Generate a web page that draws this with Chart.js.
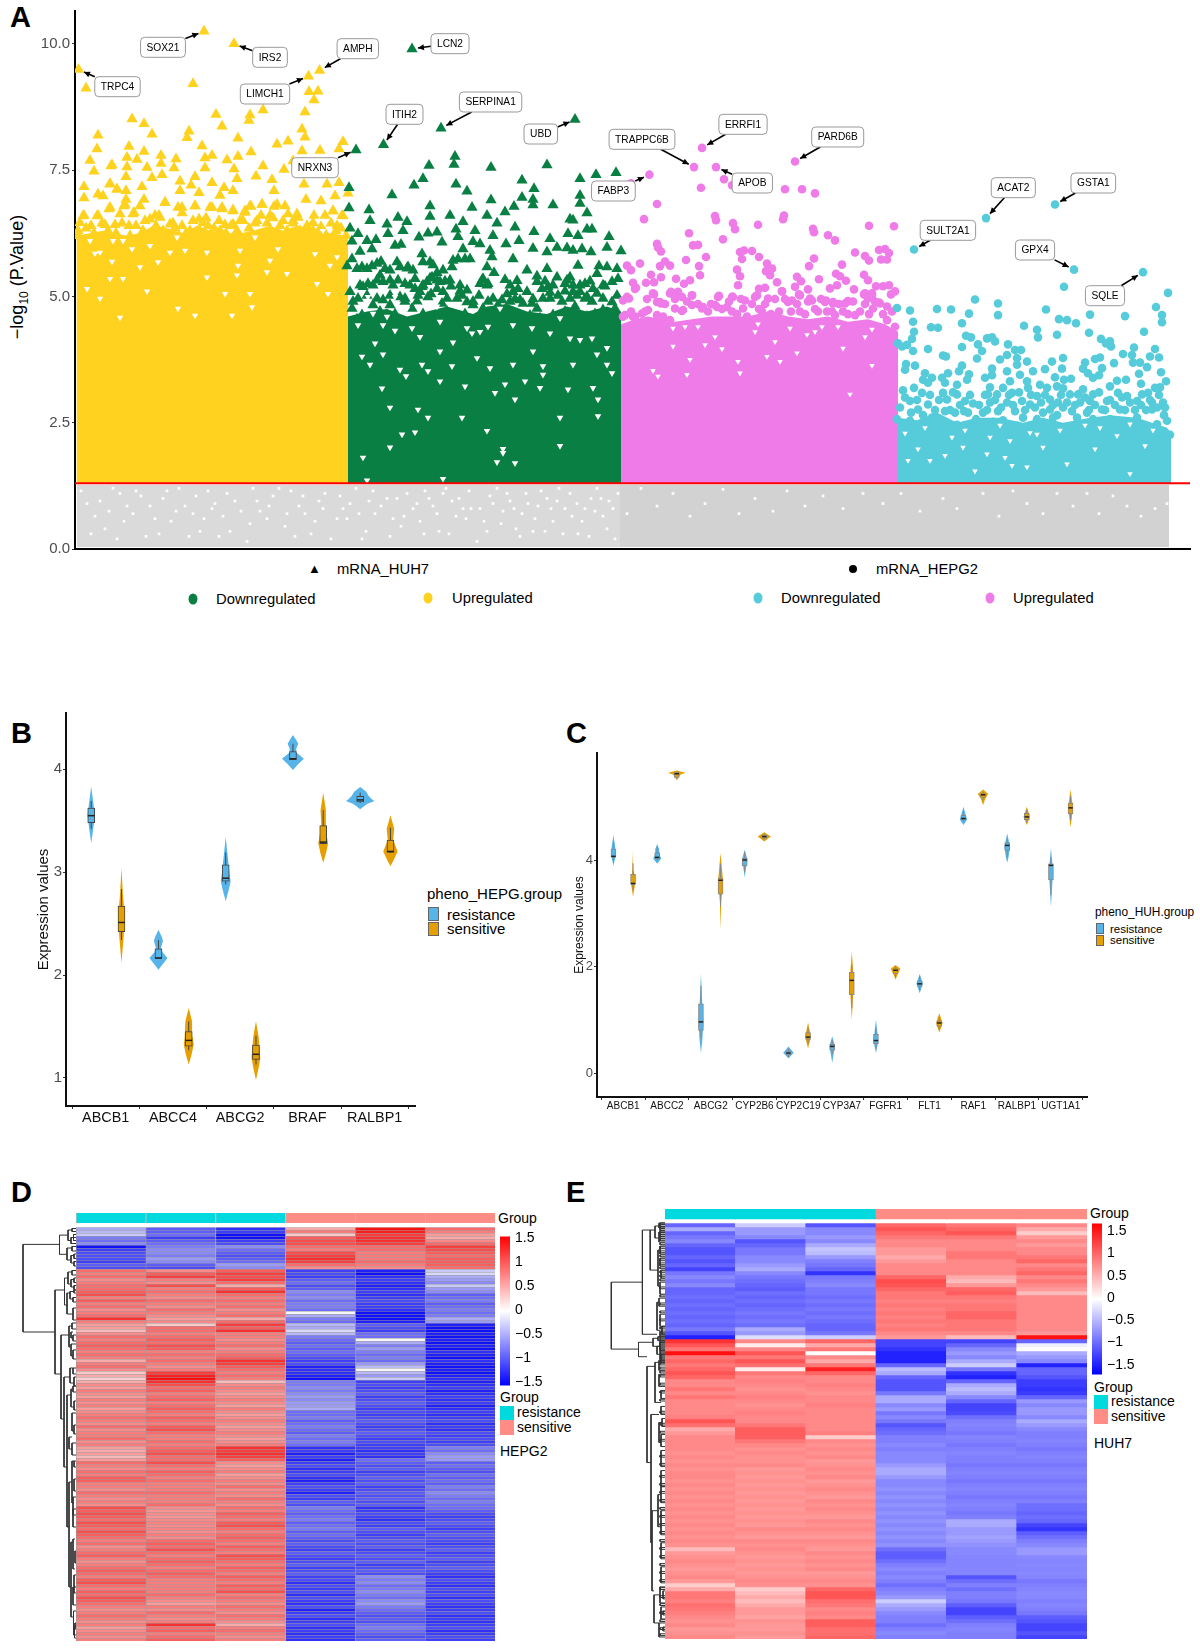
<!DOCTYPE html>
<html>
<head>
<meta charset="utf-8">
<script src="https://cdn.jsdelivr.net/npm/chart.js@4/dist/chart.umd.js"></script>
<style>
  body { margin: 0; width: 1200px; height: 1648px; background: #fff; position: relative; overflow: hidden; font-family: "Liberation Sans", sans-serif; color: #000; }
  canvas { position: absolute; }
  .t { position: absolute; transform: translateY(-50%); white-space: nowrap; }
  .letter { font-size: 29px; font-weight: bold; }
  .dot { position: absolute; width: 9px; height: 11px; border-radius: 50%; transform: translate(-50%, -50%); }
  .sw { position: absolute; box-sizing: border-box; border: 1px solid #666; }
  .fill { position: absolute; }
</style>
</head>
<body>
<div class="t letter" style="left:10px;top:17px">A</div>
<div class="t letter" style="left:11px;top:733px">B</div>
<div class="t letter" style="left:566px;top:733px">C</div>
<div class="t letter" style="left:11px;top:1192px">D</div>
<div class="t letter" style="left:566px;top:1192px">E</div>

<div class="t" style="left:19px;top:277px;font-size:18px;transform:translate(-50%,-50%) rotate(-90deg)">&minus;log<sub style="font-size:12px">10</sub> (P.Value)</div>

<div class="t" style="left:308px;top:568px;font-size:13px">&#9650;</div>
<div class="t" style="left:337px;top:569px;font-size:14.8px">mRNA_HUH7</div>
<div class="dot" style="left:853px;top:569px;background:#000;width:8px;height:8px"></div>
<div class="t" style="left:876px;top:569px;font-size:14.8px">mRNA_HEPG2</div>
<div class="dot" style="left:193px;top:599px;background:#0A7F43"></div>
<div class="t" style="left:216px;top:599px;font-size:14.8px">Downregulated</div>
<div class="dot" style="left:428px;top:598px;background:#FFD21F"></div>
<div class="t" style="left:452px;top:598px;font-size:14.8px">Upregulated</div>
<div class="dot" style="left:758px;top:598px;background:#56CBDA"></div>
<div class="t" style="left:781px;top:598px;font-size:14.8px">Downregulated</div>
<div class="dot" style="left:990px;top:598px;background:#EE7BE8"></div>
<div class="t" style="left:1013px;top:598px;font-size:14.8px">Upregulated</div>

<div class="t" style="left:427px;top:893px;font-size:15px">pheno_HEPG.group</div>
<div class="sw" style="left:428px;top:907px;width:11px;height:14px;background:#56B4E9"></div>
<div class="sw" style="left:428px;top:922px;width:11px;height:14px;background:#E69F00"></div>
<div class="t" style="left:447px;top:914px;font-size:15px">resistance</div>
<div class="t" style="left:447px;top:928px;font-size:15px">sensitive</div>

<div class="t" style="left:1095px;top:912px;font-size:11.9px">pheno_HUH.group</div>
<div class="sw" style="left:1096px;top:923px;width:8px;height:11px;background:#56B4E9"></div>
<div class="sw" style="left:1096px;top:935px;width:8px;height:11px;background:#E69F00"></div>
<div class="t" style="left:1110px;top:929px;font-size:11.5px">resistance</div>
<div class="t" style="left:1110px;top:940px;font-size:11.5px">sensitive</div>

<div class="t" style="left:498px;top:1218px;font-size:14px">Group</div>
<div class="t" style="left:500px;top:1397px;font-size:14px">Group</div>
<div class="fill" style="left:500px;top:1406px;width:14px;height:14px;background:#00DADF"></div>
<div class="fill" style="left:500px;top:1420px;width:14px;height:15px;background:#FF8C85"></div>
<div class="t" style="left:517px;top:1412px;font-size:14px">resistance</div>
<div class="t" style="left:517px;top:1427px;font-size:14px">sensitive</div>
<div class="t" style="left:500px;top:1451px;font-size:14px">HEPG2</div>

<div class="t" style="left:1090px;top:1213px;font-size:14px">Group</div>
<div class="t" style="left:1094px;top:1387px;font-size:14px">Group</div>
<div class="fill" style="left:1094px;top:1395px;width:14px;height:14px;background:#00DADF"></div>
<div class="fill" style="left:1094px;top:1409px;width:14px;height:15px;background:#FF8C85"></div>
<div class="t" style="left:1111px;top:1401px;font-size:14px">resistance</div>
<div class="t" style="left:1111px;top:1416px;font-size:14px">sensitive</div>
<div class="t" style="left:1094px;top:1443px;font-size:14px">HUH7</div>

<script>
// ---- panel A: rank, value, rank, value ...
const pTicks = [0, 2.5, 5, 7.5, 10];
const pThreshold = 1.3;

const geneNames = ["SOX21","IRS2","TRPC4","LIMCH1","AMPH","LCN2","ITIH2","SERPINA1","UBD","NRXN3","FABP3","TRAPPC6B","ERRFI1","APOB","PARD6B","ACAT2","GSTA1","SULT2A1","GPX4","SQLE"];
const geneRank = [129,159,3.5,233.5,244.6,337,308.5,366,500,281,574.4,619,627,641,720,911,980,839,999,1068];
const geneValue = [10.25,10.0,9.49,9.36,9.47,9.9,8.0,8.33,8.5,7.9,7.41,7.56,7.94,7.56,7.67,6.55,6.82,5.93,5.53,5.48];
const geneGroup = [0,0,0,0,0,1,1,1,1,1,2,2,2,2,2,3,3,3,3,3];

const yellowTopRank = [1.5,15,28,38,52,65,78,92,108,122,135,152,165,178,195,208,222,235,255,273];
const yellowTopValue = [6.2,6.25,6.3,6.25,6.2,6.25,6.4,6.35,6.25,6.4,6.3,6.25,6.25,6.3,6.4,6.3,6.4,6.35,6.25,6.2];
const greenTopRank = [273,292,312,332,352,372,398,412,432,452,472,492,512,532,546];
const greenTopValue = [4.6,4.7,4.75,4.6,4.7,4.8,4.65,4.8,4.85,4.7,4.65,4.8,4.7,4.8,4.7];
const pinkTopRank = [546,560,573,587,600,617,637,673,693,713,733,753,773,793,810,823];
const pinkTopValue = [4.45,4.55,4.6,4.55,4.5,4.55,4.6,4.6,4.7,4.6,4.55,4.6,4.5,4.55,4.45,4.3];
const cyanTopRank = [823,842,862,882,902,925,948,968,988,1015,1035,1062,1092,1096];
const cyanTopValue = [2.6,2.55,2.7,2.5,2.6,2.6,2.5,2.6,2.5,2.6,2.65,2.6,2.4,2.3];

const yellowPts = [57,8.51,69,8.42,77,8.21,23,8.19,22,7.92,54,7.97,69,7.87,86,7.79,15,7.69,37,7.6,52,7.75,62,7.71,101,7.72,130,7.74,137,7.79,152,7.7,163,7.77,176,7.86,202,8.01,213,8.07,227,7.88,230,8.15,227,8.31,245,7.89,268,8.06,264,7.92,163,8.13,127,7.98,112,8.14,114,8.27,147,8.37,141,8.6,175,8.59,174,8.48,188,8.69,230,8.65,239,8.89,234,9.05,243,9.06,118,9.21,11,9.12,
19,7.48,36,7.58,52,7.56,72,7.55,86,7.63,99,7.54,130,7.54,159,7.52,188,7.58,209,7.51,218,7.68,51,7.37,77,7.35,87,7.41,162,7.33,181,7.38,197,7.31,105,7.28,120,7.37,137,7.25,149,7.15,116,7.2,9,7.17,35,7.23,67,7.17,42,7.12,51,7.09,105,7.09,124,7.05,158,7.09,145,7,199,7.09,229,7.22,252,7.22,264,7.25,23,7.02,28,6.99,9,6.95,51,6.92,69,6.92,90,6.86,103,6.76,120,6.79,158,6.71,187,6.82,210,6.79,231,6.92,246,6.89,260,6.99,273,7.04,135,6.76,176,6.78,199,6.78,222,6.63,258,6.69,34,6.73,49,6.79,59,6.66,9,6.6,23,6.6,84,6.6,107,6.65,124,6.53,147,6.73,170,6.66,239,6.6,250,6.6,267,6.6,5,6.46,
8,6.59,22,6.59,35,6.76,45,6.63,58,6.63,75,6.53,85,6.56,95,6.43,107,6.4,128,6.46,145,6.3,158,6.43,170,6.69,187,6.82,202,6.82,213,6.63,223,6.56,238,6.46,258,6.69,268,6.59,137,6.76,147,6.76,158,6.69,175,6.79,120,6.79,107,6.76,90,6.86,65,6.79,50,6.82,35,7.22,42,7.12,
3,6.3,16,6.4,30,6.42,40,6.42,54,6.4,70,6.5,80,6.6,100,6.36,115,6.3,133,6.4,150,6.42,165,6.5,182,6.5,195,6.6,208,6.5,218,6.5,232,6.4,246,6.38,262,6.4,
3,6.2,11,6.35,19,6.25,27,6.45,33,6.3,41,6.25,47,6.45,55,6.2,61,6.4,68,6.3,74,6.2,81,6.4,88,6.3,93,6.2,98,6.45,104,6.2,111,6.25,118,6.5,125,6.3,131,6.55,139,6.35,144,6.5,151,6.25,156,6.4,162,6.3,168,6.5,174,6.35,180,6.45,186,6.6,192,6.45,198,6.55,205,6.4,212,6.3,218,6.45,225,6.3,231,6.2,238,6.3,244,6.2,250,6.25,256,6.45,261,6.3,266,6.35,271,6.2];
const greenPts = [380,7.77,379,7.61,354,7.59,416,7.55,472,7.6,521,7.41,541,7.45,348,7.33,339,7.2,381,7.22,392,7.08,317,7.01,447,7.3,459,7.13,505,7.33,505,7,505,6.84,416,6.91,447,6.96,458,6.92,458,6.81,439,6.78,478,6.81,355,6.79,397,6.76,294,6.71,274,7.15,274,6.75,355,6.58,375,6.6,295,6.5,323,6.56,332,6.48,312,6.43,412,6.6,430,6.67,512,6.65,495,6.53,498,6.51,388,6.48,422,6.45,440,6.37,512,6.33,517,6.33,493,6.24,503,6.2,534,6.18,459,6.28,418,6.2,400,6.3,381,6.33,344,6.17,353,6.25,362,6.27,313,6.24,328,6.3,275,6.35,283,6.24,277,6.09,292,6.1,301,6.12,320,6.01,326,6.03,367,6.07,383,6.18,398,6.08,405,6.04,431,6.04,444,6.1,475,6.14,458,5.95,492,5.96,532,5.97,546,5.9,472,5.88,482,5.97,498,5.91,507,5.94,516,5.88,297,5.94,285,5.89,347,5.84,415,5.91,417,5.78,438,5.74,388,5.94,383,5.74,395,5.74,355,5.68,322,5.68,306,5.69,277,5.74,287,5.58,297,5.6,332,5.56,338,5.52,315,5.52,305,5.42,412,5.58,419,5.47,377,5.58,362,5.47,452,5.52,472,5.55,503,5.61,524,5.6,542,5.55,532,5.58,522,5.45,543,5.35,482,5.38,495,5.38,462,5.4,430,5.33,442,5.31,355,5.36,408,5.35,413,5.25,505,5.22,473,5.19,392,5.12,404,5.02,347,5.19,323,5.32,315,5.32,298,5.22,288,5.19,335,5.22,275,5.09,
283,4.96,308,4.93,325,4.99,343,5.02,362,5.15,368,5.09,382,4.96,392,4.89,418,4.96,427,4.93,438,5.09,452,5.09,468,4.96,483,5.02,502,5.02,522,5.06,537,4.89,277,4.76,298,4.83,337,4.76,367,4.86,408,4.76,448,4.86,462,4.76,500,4.8,540,4.76,287,4.63,312,4.63,352,4.57,380,4.43,432,4.7,445,4.57,478,4.63,512,4.6,528,4.73,465,4.57,345,5.09,505,5.09,498,5.09,315,5.02,352,5.29,362,5.32,405,5.25,
330,4.9,356,5.05,376,5.2,385,5.1,398,4.9,432,5.05,440,4.95,458,4.95,475,5.08,490,5.1,512,5,530,5.2,348,4.65,372,4.7,390,4.65,410,4.6,455,4.62,490,4.7,520,4.65,535,4.6,305,4.7,320,4.65,282,4.55,370,5.3,340,5.35,470,5.3,490,5.25,515,5.3,
272,5.6,282,5.55,292,5.55,302,5.65,310,5.55,325,5.58,333,5.58,348,5.68,358,5.62,368,5.52,378,5.71,390,5.74,302,5.32,285,5.22,293,5.25,308,5.29,318,5.22,330,5.25,340,5.15,348,5.22,357,5.38,365,5.29,375,5.32,385,5.22,407,5.32,412,5.22,435,5.22,443,5.15,462,5.29,467,5.15,478,5.22,492,5.32,498,5.22,510,5.25,518,5.15,528,5.22,537,5.29,
278,4.9,292,5.02,302,4.96,315,4.83,330,4.96,342,4.9,353,4.99,372,4.96,387,5.02,398,4.83,413,4.9,423,4.83,435,4.9,445,4.93,457,4.86,475,4.96,487,4.9,495,4.96,510,4.96,517,4.9,528,4.96,542,5.02];
const pinkPts = [556,7.24,649,7.32,657,7.2,626,7.15,710,7.12,727,7.12,740,7.04,582,6.83,569,6.53,640,6.59,641,6.51,658,6.45,660,6.33,683,6.42,709,6.6,708,6.53,738,6.34,739,6.27,753,6.21,760,6.11,794,6.4,819,6.39,614,6.25,648,6.13,582,6.04,583,5.97,618,6.01,623,6.02,586,5.89,669,5.91,665,5.88,677,5.9,667,5.74,684,5.78,611,5.72,631,5.78,780,5.87,790,5.8,794,5.71,804,5.92,810,5.94,814,5.86,812,5.73,806,5.73,739,5.75,734,5.6,552,5.61,556,5.52,565,5.65,590,5.69,585,5.6,595,5.61,624,5.6,625,5.42,692,5.65,697,5.55,691,5.5,695,5.42,662,5.53,665,5.4,761,5.45,767,5.63,765,5.4,771,5.31,789,5.43,793,5.32,722,5.39,726,5.3,576,5.43,586,5.38,571,5.27,579,5.28,601,5.35,615,5.32,609,5.25,663,5.22,744,5.34,702,5.28,762,5.22,755,5.16,733,5.14,720,5.19,779,5.14,801,5.2,808,5.2,814,5.22,820,5.1,816,5.04,558,5.27,561,5.17,690,5.17,684,5.15,707,5.1,579,5.04,596,5.09,603,5.09,617,5.02,644,5.01,657,4.99,724,5.04,789,5.04,797,5.06,793,4.96,804,4.88,582,4.89,586,4.86,554,4.96,548,4.92,735,4.96,751,4.92,758,4.86,770,4.86,773,4.91,713,4.89,682,5.02,670,4.92,640,4.83,628,4.79,617,4.83,607,4.71,573,4.73,567,4.66,548,4.6,558,4.6,582,4.63,588,4.6,
552,4.99,560,5.15,570,4.7,585,4.89,578,5.06,595,5.06,602,5.06,607,4.99,617,5.02,608,4.73,583,4.56,627,4.76,643,4.99,642,4.79,652,4.79,658,4.99,680,4.99,693,4.96,707,5.1,717,4.92,725,5.02,737,4.92,750,4.89,758,4.89,773,4.9,790,5.06,797,5.02,805,4.86,798,4.76,780,4.63,817,4.7,812,4.53,820,4.4,760,4.63,725,4.7,713,4.43,743,4.7,687,4.7,668,4.76,657,4.7,633,4.7,600,4.76,595,4.53,560,4.6,550,4.63,620,4.47,
556,4.7,572,4.95,590,4.85,600,4.95,612,4.9,623,4.85,636,4.85,647,4.75,654,4.9,662,4.65,666,4.95,672,4.6,677,4.85,684,4.75,690,4.85,696,4.65,700,4.95,704,4.7,710,4.95,716,4.7,722,4.85,730,4.65,733,4.9,740,4.75,746,4.95,752,4.7,757,4.7,764,4.85,768,4.7,773,4.65,778,4.9,785,4.7,790,4.85,794,4.65,800,4.9,808,4.65,812,4.8];
const cyanPts = [989,5.19,1093,5.07,900,4.94,923,4.86,923,4.63,822,4.77,835,4.72,862,4.75,876,4.74,894,4.66,971,4.74,984,4.55,992,4.53,1001,4.47,1015,4.64,1050,4.61,1081,4.79,1087,4.63,1087,4.49,838,4.5,887,4.47,856,4.39,863,4.38,839,4.3,837,4.16,949,4.42,962,4.34,963,4.19,982,4.24,1014,4.28,1069,4.3,891,4.22,896,4.19,912,4.17,917,4.19,920,4.11,1026,4.16,1035,4.11,1031,4.07,1036,4.01,823,4.07,827,4.01,832,4.04,838,3.92,853,3.96,887,4,903,4.05,907,3.92,933,4.05,940,3.94,946,3.94,932,3.84,868,3.83,871,3.81,902,3.77,925,3.75,942,3.78,942,3.65,952,3.71,977,3.71,988,3.78,1020,3.76,1025,3.79,1048,3.86,1059,3.99,1057,3.84,1080,3.96,1075,3.81,1084,3.79,1010,3.69,1039,3.68,1058,3.69,1065,3.69,1072,3.6,831,3.66,830,3.55,840,3.63,887,3.63,884,3.52,917,3.57,970,3.56,987,3.57,1008,3.57,1027,3.58,1064,3.47,1086,3.5,850,3.48,848,3.35,857,3.39,873,3.48,867,3.39,894,3.46,892,3.35,910,3.39,917,3.44,932,3.52,935,3.32,945,3.45,958,3.52,952,3.32,980,3.4,989,3.35,996,3.37,1013,3.48,1018,3.39,1024,3.44,1042,3.33,1051,3.35,1066,3.27,1091,3.32,1085,3.2,828,3.14,839,3.19,853,3.29,870,3.29,882,3.25,915,3.2,928,3.19,953,3.19,965,3.25,972,3.19,982,3.22,988,3.18,1008,3.16,1035,3.22,1080,3.19,847,3.09,868,3.09,882,3.06,872,2.96,913,3.06,922,3.06,937,3.09,962,3.03,975,2.96,995,3.06,1003,3.06,1018,3.06,1043,3.09,1052,3.03,1073,3.09,1067,3.06,835,2.93,853,2.86,890,2.93,898,2.88,915,2.9,932,2.9,947,2.93,983,2.9,1015,2.93,1032,2.93,1062,2.93,1088,2.9,1077,2.9,843,2.76,870,2.73,880,2.7,889,2.73,908,2.7,923,2.73,940,2.73,955,2.86,968,2.7,975,2.76,988,2.8,997,2.73,1012,2.7,1027,2.76,1045,2.76,1077,2.76,1090,2.8,857,2.6,901,2.57,918,2.52,931,2.47,948,2.6,962,2.57,978,2.6,1002,2.6,1018,2.57,1035,2.57,1062,2.6,1092,2.54,822,2.57,835,2.54,852,2.47,882,2.46,892,2.37,942,2.44,988,2.4,1042,2.47,1082,2.47,1095,2.26,982,2.17,
825,2.8,830,3,836,2.7,842,2.95,848,2.65,855,3.05,860,2.75,864,2.95,875,2.75,878,3.1,885,2.85,893,2.7,895,3.05,904,2.85,910,3.05,912,2.75,920,2.95,926,2.8,928,2.55,934,3.05,938,2.85,944,3.1,950,2.75,956,3.05,960,2.8,966,2.9,970,3.05,978,2.85,982,2.65,986,3.05,992,2.9,1000,2.85,1005,2.9,1010,3,1014,2.75,1020,2.85,1024,3.1,1030,2.75,1035,2.95,1040,2.85,1047,3,1050,2.75,1055,2.9,1060,2.75,1066,2.85,1071,2.75,1075,2.95,1082,2.8,1084,3.05,1089,2.65];

// white holes left in the dense part of each group
const yellowGaps = [15,6.1,25,5.87,38,6.1,48,6.1,57,5.94,75,6,83,5.68,102,6.17,110,5.91,132,5.87,165,5.91,163,5.61,180,6.17,195,5.71,203,5.94,212,5.45,240,5.84,248,6.3,255,5.61,262,5.78,37,5.69,20,5.85,35,5.35,48,5.35,65,5.58,95,5.87,132,5.38,162,5.42,192,5.48,242,5.25,253,5.05,150,5.05,175,5.05,25,4.96,12,5.15,103,4.76,45,4.58,120,4.62,157,4.62,177,4.79,72,5.1];
const greenGaps = [293,4.99,320,4.99,298,4.66,283,4.43,312,4.6,343,4.8,352,4.8,362,4.8,392,4.37,397,4.27,345,4.2,300,4.07,320,4.32,378,4.09,413,4.4,475,4.27,495,4.17,505,4.14,522,3.85,287,3.81,325,3.55,331,3.42,347,3.65,353,3.52,377,3.62,468,3.62,468,3.45,537,3.48,422,1.72,440,1.7,485,2.04,315,2.8,307,3.18,365,3.32,390,3.22,420,3.09,430,3.26,440,2.96,450,3.32,465,3.19,493,3.16,518,3.19,523,2.96,485,2.6,523,2.63,412,2.34,340,2.31,288,1.81,315,2.01,368,1.39,292,1.36,343,2.76,353,2.6,327,2.27,387,2.6,428,1.98,428,1.9,
332,4.76,308,4.43,337,4.37,365,4.5,405,4.3,425,4.76,438,4.43,457,4.37,485,4.57,517,4.17,532,3.98,308,3.85,402,3.78,438,3.65,458,3.91,498,3.65,295,3.65,365,3.91,415,3.58,532,3.65];
const pinkGaps = [598,4.01,615,3.75,630,4.04,647,3.96,663,3.71,700,4.1,722,3.88,705,3.71,732,4.24,768,3.97,797,3.63,583,3.42,665,3.48,612,3.45,775,3.06,692,3.81,578,3.53,598,4.37,610,4.4,623,4.4,683,4.45,747,4.4,763,4.4,797,4.35,715,4.37,640,4.2,680,4.3,740,4.3,790,4.2];
const cyanGaps = [877,2.21,915,2.21,935,2.14,888,2.01,843,1.98,833,1.75,870,1.85,930,1.81,912,1.88,992,1.68,1020,1.98,1070,2.04,900,1.54,952,1.62,1055,1.49,1025,2.4,1042,2.24,1055,2.47,937,1.65,968,2.01,855,1.75,830,2.29,962,2.27,850,2.4,890,2.35,925,2.45,955,2.3,985,2.35,1010,2.45,1078,2.35];
const grayGaps = [12,.9,30,.4,45,1.1,58,.7,71,.25,88,1,96,.55,110,.85,125,.35,133,1.15,148,.65,160,.95,172,.15,185,.75,198,1.05,210,.45,224,.85,236,.3,250,1.1,262,.6,275,.9,287,.2,300,.7,312,1,326,.45,338,.8,350,1.15,364,.35,377,.95,391,.6,402,.15,415,1.05,428,.75,441,.4,453,.9,466,1.15,478,.55,490,.8,503,.3,516,1,528,.65,540,.2,
20,.65,38,1.2,52,.85,66,1.05,80,.6,104,1.2,118,.7,140,.9,155,.35,178,1.2,192,.6,216,1.15,230,.7,244,.95,268,.8,281,1.2,294,.95,318,.6,332,1.1,345,.55,358,.85,371,1.2,384,1,396,.8,409,.55,422,1.2,435,.95,447,.7,460,.6,472,1,484,1.2,497,.65,510,.8,522,1.2,534,.95,
6,1.15,16,.3,25,.95,34,.75,42,.2,49,.55,61,1.15,75,.85,84,.3,92,1.15,101,.75,114,.25,121,1.05,129,.6,137,.8,144,.25,152,1.1,166,.75,175,.5,182,.95,194,.85,204,1.2,212,.7,220,.25,228,1.05,240,.55,248,.8,256,.2,265,1.05,272,.6,284,.7,291,.35,298,1.15,306,.85,315,.25,322,1,329,.65,342,.9,349,.3,354,1,362,.7,368,1.1,374,.3,381,.65,388,.8,394,1.15,405,.8,412,.35,418,.9,426,.5,432,1.1,439,.8,445,.25,451,1.1,458,.35,463,.85,470,.35,476,.8,482,.95,488,.3,495,1.1,502,.9,507,.55,514,.25,520,.75,526,1,532,.4,538,.8,543,1.1,
552,.7,566,1.2,582,.85,598,1.1,615,.65,630,.9,648,1.18,664,.7,680,1,698,.75,712,1.15,730,.85,748,1.05,768,.8,788,1.1,808,.9,826,1.1,845,.75,868,1,882,.8,908,1.1,924,.65,938,1.15,952,.9,968,.7,982,1.1,998,.85,1012,1.1,1024,.7,1038,1.05,1052,.85,1066,.65,1080,.8,1092,.9];

// ---- panel B
const bGenes = ["ABCB1","ABCC4","ABCG2","BRAF","RALBP1"];
const bTicks = [1, 2, 3, 4];
const bResQ1 = [3.48,2.16,2.91,4.09,3.68];
const bResMed = [3.547,2.165,2.94,4.1,3.7];
const bResQ3 = [3.62,2.255,3.07,4.17,3.735];
const bResLo = [3.42,2.16,2.88,4.09,3.67];
const bResHi = [3.69,2.34,3.19,4.245,3.77];
const bSenQ1 = [2.42,1.31,1.18,3.275,3.19];
const bSenMed = [2.51,1.365,1.23,3.29,3.2];
const bSenQ3 = [2.67,1.45,1.32,3.45,3.31];
const bSenLo = [2.34,1.27,1.13,3.27,3.19];
const bSenHi = [2.835,1.55,1.41,3.6,3.43];
// violin outlines: value, half width, value, half width ...
const bResViolin = [
  [3.83,0,3.68,.03,3.55,.056,3.42,.03,3.28,0],
  [2.44,0,2.37,.05,2.33,.067,2.27,.04,2.22,.06,2.165,.135,2.12,.08,2.05,0],
  [3.34,0,3.15,.03,3,.055,2.91,.073,2.84,.05,2.715,0],
  [4.33,0,4.28,.05,4.245,.079,4.2,.05,4.16,.05,4.1,.163,4.05,.08,3.99,0],
  [3.825,0,3.78,.09,3.74,.124,3.71,.17,3.69,.213,3.66,.1,3.61,0]];
const bSenViolin = [
  [3.04,0,2.8,.02,2.55,.05,2.35,.03,2.12,0],
  [1.68,0,1.55,.05,1.4,.06,1.32,.073,1.22,.04,1.13,0],
  [1.55,0,1.4,.04,1.25,.06,1.2,.067,1.1,.04,.98,0],
  [3.77,0,3.6,.04,3.45,.028,3.28,.073,3.18,.04,3.09,0],
  [3.55,0,3.42,.056,3.31,.04,3.2,.107,3.12,.05,3.055,0]];

// ---- panel C
const cGenes = ["ABCB1","ABCC2","ABCG2","CYP2B6","CYP2C19","CYP3A7","FGFR1","FLT1","RAF1","RALBP1","UGT1A1"];
const cTicks = [0, 2, 4];
const cResQ1 = [4.05,4.03,.8,3.89,.34,.43,.55,1.625,4.76,4.18,3.625];
const cResMed = [4.07,4.05,.96,4,.375,.5,.61,1.675,4.78,4.275,3.9];
const cResQ3 = [4.21,4.14,1.3,4.03,.41,.54,.725,1.73,4.84,4.33,3.93];
const cResLo = [3.97,3.98,.64,3.77,.3,.35,.45,1.55,4.72,4.05,3.34];
const cResHi = [4.34,4.25,1.64,4.15,.46,.62,.85,1.82,4.92,4.4,4.05];
const cSenQ1 = [3.54,5.55,3.36,4.41,.63,1.47,1.86,.875,5.175,4.76,4.87];
const cSenMed = [3.56,5.62,3.62,4.44,.675,1.74,1.93,.94,5.225,4.81,4.98];
const cSenQ3 = [3.73,5.64,3.66,4.47,.76,1.89,1.96,.98,5.25,4.875,5.07];
const cSenLo = [3.44,5.52,3.13,4.38,.55,1.22,1.8,.82,5.12,4.7,4.75];
const cSenHi = [3.94,5.66,3.93,4.49,.85,2.03,2,1.05,5.28,4.95,5.2];
const cResViolin = [
  [4.47,0,4.25,.04,4.07,.047,3.89,0],[4.3,0,4.2,.047,4.12,.04,4.03,.093,3.93,0],[1.875,0,1.3,.03,.96,.056,.6,.03,.375,0],
  [4.2,0,4,.065,3.85,.03,3.67,0],[.5,0,.38,.12,.275,0],[.69,0,.5,.065,.35,.03,.19,0],[1,0,.6,.056,.375,0],
  [1.86,0,1.68,.075,1.5,0],[5,0,4.85,.05,4.76,.084,4.66,0],[4.5,0,4.25,.065,4.05,.03,3.95,0],[4.22,0,3.8,.047,3.4,.02,3.125,0]];
const cSenViolin = [
  [4.19,0,3.8,.02,3.56,.047,3.31,0],[5.68,0,5.64,.2,5.6,.08,5.5,0],[4.13,0,3.62,.056,3.2,.015,2.69,0],
  [4.52,0,4.44,.15,4.35,0],[.95,0,.68,.065,.46,0],[2.28,0,1.74,.047,1.3,.02,1,0],[2.03,0,1.96,.11,1.86,.05,1.75,0],
  [1.125,0,.94,.075,.76,0],[5.325,0,5.24,.12,5.15,.05,5.03,0],[5,0,4.81,.075,4.66,0],[5.325,0,4.98,.056,4.61,0]];

// ---- panel D, one array per sample, rows top to bottom
const sampleGroup = ["resistance","resistance","resistance","sensitive","sensitive","sensitive"];
const colorTicks = [1.5, 1, 0.5, 0, -0.5, -1, -1.5];
const colorLabels = ["1.5","1","0.5","0","\u22120.5","\u22121","\u22121.5"];
const d1 = [-.5,-.4,-.3,-.8,-.9,-.7,-1.5,-1.2,-1.1,-1.1,-1.1,-1.2,-1,-1.1,
.9,.8,.9,.7,.8,.9,.9,1,1.1,.8,1,.8,.9,.7,.8,.9,1.3,.8,.6,.6,.4,.7,.9,.8,.9,1,.9,.8,.9,.8,.5,.8,.9,.7,.3,.5,.25,.5,.7,.6,.8,.7,.6,.8,.7,.8,.6,.7,.8,.9,.8,.7,.9,.7,.8,.8,.9,.7,.8,.6,.5,.6,.4,.6,.9,.8,.7,.9,.8,1,1,.8,.8,.7,.9,.8,.7,.8,.7,1.1,1,1.1,1,.9,1.1,1,.9,1.1,1,.9,.8,.9,.7,.8,.9,1,.8,.7,.8,.9,1,.9,.8,1,1.1,.9,.8,1,.9,1.1,1,.9,.8,.7,.8,.9,.8,.7,.8,.6,.7,.8,.7,.8];
const d2 = [-1,-1,-.9,-1.2,-1,-.9,-.8,-.7,-.7,-.8,-.6,-.7,-1,-1.1,
.7,1,1.2,.8,.7,1.1,.8,.9,.8,.7,.9,.8,.7,.9,.8,.7,.6,.7,.3,.9,.9,.8,.9,1,.9,1.1,1,.8,.9,.8,.9,.8,.7,.8,1.2,1.4,1.5,1.3,1.1,.9,1,.8,.9,1,.8,.9,1,.9,.8,1,.9,.8,1,1.1,.9,.8,.8,.9,.8,.9,1,1.1,.9,.9,1.1,.9,.8,1,.9,.8,.9,.8,.8,.8,.9,.8,.8,.8,.9,.7,.65,.7,.65,.7,.75,.7,.75,.7,.8,.7,.9,1,.9,1.1,.9,.8,.9,1,.9,.8,.9,1,.9,.8,.8,.8,.8,.8,.9,.8,.7,.6,.8,.7,.9,.8,.7,.8,1.3,.9,1,.8,.9,1];
const d3 = [-1.3,-1.2,-1.5,-1.5,-1.2,-1.1,-.7,-.9,-1,-1.1,-1,-.9,-.6,-.7,
1,1.2,1.1,1.2,.9,.5,1,1.3,.9,.8,.9,.8,.9,.7,.8,.9,.5,.9,1.2,1,1.3,.8,.8,.7,.8,.9,.7,.8,.9,1,1.3,1.2,1,.9,.8,.9,.8,.4,.7,.8,.7,.6,.7,.8,.7,.6,.8,.7,.6,.7,.8,.7,.6,.7,.8,.7,.6,.7,.8,1.3,1.2,1.3,1.2,1,.7,.6,.7,.8,.6,.7,.8,.7,.9,.7,.8,.7,.9,.8,.7,.9,.8,1,.9,.8,1,1.1,.9,.8,.9,1,.9,.8,1,.9,.8,1.1,1,.9,.8,1,.9,.8,1,.9,.8,1,.9,1.1,.8,.9,.8,.7,.9,.8,.7,.9,.8,.7,.5,.8,.9,.8,.7,.8];
const d4 = [.5,.8,.3,1,1.1,1.1,.9,.8,1.1,1.2,1.3,1.2,.9,.7,
-1.2,-1.1,-1.2,-1,-.9,-1.1,-1,-.7,-.8,-.7,-.9,-.8,-.8,-.9,0,-.5,-.8,-.9,-.4,-.5,-.2,-.4,-.8,-.9,-1,-.9,-1,-.9,-1,-1.1,-1.2,-1.1,-1.4,-1.3,-1.3,-1.4,-1.5,-.8,-.8,-.7,-.8,-.7,-.6,-.7,-.6,-.6,-.5,-.9,-.9,-.8,-1,-.9,-.8,-.9,-1,-.8,-.9,-.8,-.9,-1.3,-1.2,-1.4,-1.2,-1.4,-1.2,-1.1,-1.3,-1.2,-1.1,-1.3,-1.4,-1.2,-1.1,-1.2,-1.4,-1.1,-1.2,-1,-1.1,-.8,-.9,-1,-.9,-.8,-1,-.9,-.8,-1,-.9,-1,-1.1,-1,-1.1,-1.2,-1,-1.1,-1.2,-1.1,-1,-1.2,-1.1,-1,-1.2,-1.1,-1.3,-1.1,-1.2,-1.1,-1.3,-1.1,-1.2,-1.3,-1.1,-1.4,-1.2,-1.1,-1.3,-1.2,-1.1,-1.3,-1.2,-1.3,-1.2,-1.3];
const d5 = [1.5,1.4,1.2,1.3,1.3,1.2,.9,.9,.8,.8,.8,.9,.8,.7,
-1.4,-1.5,-1.3,-1.2,-1.3,-1.4,-1.3,-1.2,-1.3,-1.2,-1.1,-1.2,-1.2,-1.3,-1.5,-1.5,-1.5,-1.4,-1,-1.1,-1.2,-.9,-.9,0,-.5,-.8,-.6,-.8,-.9,-.8,-.9,-.6,-.4,0,-.4,-.6,-.3,-1.2,-1.1,-1.2,-1.1,-1,-1.2,-1.1,-1,-1.1,-1.2,-1.1,-1.2,-1.1,-1,-1.1,-1.2,-1.1,-1,-1.1,-1.2,-1.1,-1.2,-1.2,-1.3,-1.2,-1.3,-.9,-1,-1.1,-1,-1.2,-1.1,-1,-1.1,-1,-1.2,-1.1,-1,-1.1,-1,-1.1,-1,-1.3,-1.2,-1.1,-1.2,-1.3,-1.1,-1.2,-1,-1.1,-1.2,-1.1,-1,-1.1,-1,-1.2,-1.1,-1,-1.1,-1,-1.2,-1.1,-1,-1.1,-.7,-.8,-.7,-.9,-.8,-.7,-.8,-.9,-.7,-.6,-.8,-.9,-1,-1.1,-1,-1.1,-.9,-.8,-.9,-1,-1.1,-1];
const d6 = [.9,.8,.6,.5,.7,.9,1.2,1.1,1,.9,1,1,1,.9,
-.3,-.2,-.5,-.6,-.7,-.3,-.6,-.7,-1,-.9,-.8,-1,-.9,-.8,-.9,-.8,-.5,-.6,-1.4,-1.5,-1.5,-1.4,-1.5,-1.4,-1.5,-1.4,-1.5,-1.3,-1.4,-1.5,-1.3,-1.4,-1.5,-1.4,-1.5,-1.4,-1.3,-1.4,-1.3,-1.2,-1.4,-1.3,-1.2,-1.3,-1.2,-1.4,-1.3,-1.2,-1.3,-1.2,-1.1,-1.3,-1.2,-1.3,-1.1,-1.2,-1.1,-1.2,-1.1,-.8,-.9,-.7,-.6,-.6,-1,-.9,-1,-1.1,-.9,-1,-.9,-1,-.8,-.9,-.7,-.8,-.9,-.8,-.9,-.9,-1,-1.1,-1.2,-1.1,-1,-1.1,-1.2,-1.1,-1,-1.1,-1.1,-1.2,-1.1,-1,-1.2,-1.1,-1,-1.2,-1.1,-1,-1.1,-1.2,-1.3,-1.1,-1.2,-1.3,-1.1,-1.2,-1.1,-1.3,-1.1,-1.2,-1.3,-1.2,-1.1,-1.3,-1.2,-1.3,-1.2,-1.1,-1.3,-1.2,-1.1,-1.2];
// rowA, rowB, merge height, height A, height B
const dTree = [[5.8,35,53,16.5,21],[2.7,9.1,16.5,8,9],[1,4.5,8,4,5],[.5,1.5,4,0,0],[3.5,5.5,5,0,0],[2.5,4.5,2.5,0,0],[7,11,9,4,5],[6.5,8,4,0,0],[9.5,12,5,2,2],[9,10.5,2,0,0],[11.5,13,2,0,0],
[21,49,21,11.5,15],[17,26,11.5,8,9],[15,19,8,4,5],[14.5,16,4,0,0],[17.5,20,5,2,2],[17,18.5,2,0,0],[19.5,21,2,0,0],[22,29,9,6,3],[21.5,24,6,2,3],[21,22,2,0,0],[23.5,25,3,0,0],[27,31,3,0,0],
[36,64,15,7,12],[33,40,7,4,5],[32,34,4,0,0],[36,38,3,0,0],[35,37,5,3,3],[39,43,5,0,3],[41,44,3,0,0],[50,80,12,6,9],[47,52,6,3,2],[47,49,3,0,0],[50,53,2,0,0],[56,100,9,5,7],[54,60,5,3,2],[53,55,3,0,0],[58,61,2,0,0],[62,68,4,0,2],[66,69,2,0,0],[72,76,4,0,0],[70,74,7,4,4],
[85,120,7,4,5],[78,92,4,2,2],[78,80,2,0,0],[84,88,2,0,0],[90,96,3,0,0],[94,100,3,0,0],[105,130,5,3,2],[104,114,3,1,1],[108,112,1,0,0],[116,122,2,0,0],[120,126,3,0,0],[128,136,2.5,0,0],[132,134,1,0,0],[133,137,1.5,0,0]];

// ---- panel E
const e1 = [-.9,-.5,-.9,-.8,-.7,-.9,-1,-1,-.9,-1,-.9,-1.1,-.8,-.7,-.8,-.7,-.9,-.9,-.85,-.9,-.85,-.9,-.85,-.9,-.85,-.9,-.8,-1,-1.3,
1.2,1,.8,1.4,.8,.9,.8,.9,1,.9,.7,.7,.8,.7,.8,.7,.7,.7,.7,.75,1,.85,.5,.6,.7,.7,.7,.7,.65,.7,.65,.7,.65,.7,.7,.65,.7,.65,.7,.65,.7,.65,.7,.65,.7,.65,.7,.65,.7,.65,.7,.65,.4,.6,.65,.7,.65,.6,.65,.7,.6,.3,.5,.8,.8,.75,.85,.8,.75,.7,.65,.7,.6,.65,.7];
const e2 = [-.3,-.6,-.6,-.7,-1,-.9,-.8,-.8,-.7,-.7,-.6,-.5,-.7,-.8,-.85,-.9,-.95,-.85,-.9,-.85,-.9,-.85,-.8,-.85,-.8,-.85,-.5,-.6,-.2,
.7,.1,.7,1,.8,1,.85,.1,.8,.7,.75,.7,.65,.7,.75,.7,.65,.7,.75,.7,.7,.8,.95,.95,.95,.8,.7,.65,.7,.65,.65,.7,.6,.65,.6,.65,.6,.65,.6,.65,.6,.65,.6,.65,.6,.65,.6,.7,.65,.6,.7,.65,.7,.65,.6,.65,.6,.65,.6,.65,.7,.65,.3,.4,.5,.4,.5,.6,.6,.55,.65,.6,.6,.65,.6];
const e3 = [-1,-.7,-.7,-.6,-.7,-.5,-.35,-.4,-.6,-.75,-.8,-.9,-1.2,-.8,-.75,-.7,-.8,-.8,-.85,-.8,-.85,-.8,-.85,-.8,-.85,-.9,-.9,-.8,-.3,
.9,.5,.8,0,.7,.5,.8,1.3,.9,.7,.7,.75,.7,.65,.7,.7,.75,.7,.7,.7,.7,.7,.7,.75,.3,.7,.65,.7,.65,.7,.6,.65,.7,.65,.7,.6,.65,.7,.65,.6,.7,.65,.7,.65,.6,.7,.65,.7,.65,.6,.7,.65,.6,.7,.65,.7,.65,.7,.6,.65,.7,.65,.9,1,1,.85,.8,.7,.75,.7,.95,.95,.85,.85,.9];
const e4 = [.9,1,.9,.8,.7,.7,.6,.6,.5,.6,.7,.7,.7,.9,1.05,1,.9,.8,.8,.75,.8,.75,.8,.75,.8,.75,.8,.7,.6,
-1.1,-1.1,-1.2,-1.3,-1.3,-1.3,-.9,-.4,-.5,-.9,-1,-1,-1,-.8,-.5,-.5,-.7,-.6,-.8,-.7,-.8,-1,-.9,-.85,-.75,-.75,-.7,-.75,-.7,-.7,-.7,-.6,-.5,-.5,-.6,-.7,-.7,-.65,-.7,-.65,-.7,-.65,-.7,-.65,-.7,-.65,-.7,-.65,-.7,-.65,-.7,-.65,-.85,-.95,-.95,-.85,-.75,-.7,-.75,-.7,-.75,-.85,-.75,-.7,-.6,-.3,-.5,-.6,-.7,-.75,-.75,-.85,-.75,-.7,-.75];
const e5 = [.8,.9,1,.8,.7,.7,.7,.8,.8,.7,.7,.7,.7,.5,.4,.6,.9,.95,.8,.75,.8,.8,.9,.9,.8,.8,.8,.7,.4,
-1.1,-.9,-.7,-.6,-.7,-.5,-.3,-.8,-1.2,-1.3,-.9,-.5,-.4,-.5,-.7,-.9,-1.1,-1.1,-1.05,-.85,-.75,-.72,-.75,-.8,-.72,-.75,-.8,-.75,-.72,-.75,-.75,-.8,-.75,-.72,-.75,-.8,-.75,-.72,-.75,-.8,-.75,-.72,-.75,-.8,-.75,-.5,-.5,-.6,-.6,-.55,-.6,-.65,-.7,-.7,-.72,-.72,-.72,-.72,-.72,-1,-.85,-.75,-.85,-.75,-.75,-.8,-.95,-1.1,-1.1,-.95,-.85,-.75,-.72,-.75,-.75];
const e6 = [.7,.5,.3,.6,.7,.6,.7,.7,.8,.9,.7,.8,.9,.7,.8,.7,.6,.4,.7,.7,.7,.7,.7,.7,.7,.7,.7,.6,1.4,
-.9,-.1,0,-.5,-.6,-.7,-1.3,-.9,-.9,-1,-1.15,-1.15,-1.2,-1.15,-.9,-.6,-.7,-.6,-.6,-.7,-.5,-.6,-.7,-.75,-.75,-.72,-.75,-.8,-.75,-.72,-.75,-.8,-.75,-.72,-.75,-.8,-.75,-.72,-.75,-.8,-.75,-.85,-.85,-.9,-.85,-.9,-1.1,-1.2,-.95,-.85,-.75,-.7,-.6,-.6,-.7,-.72,-.7,-.72,-.7,-.72,-.8,-.75,-.72,-.7,-.7,-.75,-.72,-.75,-.8,-.95,-1,-1.1,-1.1,-1,-1.1];
const eTree = [[15,31.7,53.7,22.6,26.5],[2,28,22.6,14.8,8],[2,12,14.8,10,7],[1,4,10,6,6],[.3,1.5,6,0,0],[2.5,5,6,0,0],[7,16,7,5,5],[6,8,5,0,0],[9,11,5,0,0],[12,14,4,0,0],[15,18,5,0,0],[20,27,8,6,5],[19,21,6,0,0],[23,26,5,0,0],[26,28,3,0,0],
[30,33.6,26.5,12,18],[29,31,12,7,5],[28.6,29.6,7,0,0],[30,32,5,0,0],[31,33,8,4,3],[33,35,4,0,0],[36,60,18,10,14],[35,45,10,6,4],[34.5,37,6,0,0],[38,41,6,0,0],[42,44,4,0,0],[46,48,4,0,0],[48,80,14,6,13],[50,55,6,3,4],[49,51,3,0,0],[53,56,4,0,0],[57,61,4,0,0],[62,66,4,0,0],[72,92,13,7,11],[68,76,7,4,4],[66,70,4,0,0],[72,78,4,0,0],[80,84,4,0,0],[86,90,4,0,0],[93,100,11,5,6],[91,95,5,0,0],[96,99,4,0,0],[100,103.5,6,0,0],[92,94,2,0,0],[97,98,2,0,0],[101,102,2,0,0]];
const eTips = [.2,.7,1.2,1.7,2.2,2.7,3.2,3.7,4.2,5.2,6.2,7.2,8.2,9.2,10.2,11.2,12.2,13.2,14.2,16.2,18.2,20.2,22.2,24.2,26.2,27.2,27.7,28.2,28.7,29.2,29.7,30.2,30.7,31.2,31.7,32.2,32.7,33.2,33.7,34.2,34.7,35.2,36.2,37.2,38.2,40.2,42.2,44.2,47.2,50.2,52.2,54.2,58.2,60.2,63.2,65.2,67.2,69.2,71.2,73.2,75.2,77.2,79.2,81.2,83.2,85.2,87.2,89.2,91.2,93.2,95.2,97.2,99.2,101.2,102.7];

// ---- helpers
Chart.defaults.font.family = '"Liberation Sans", sans-serif';
Chart.defaults.animation = false;
Chart.defaults.events = [];
Chart.defaults.plugins.legend.display = false;
Chart.defaults.plugins.tooltip.enabled = false;

const YELLOW = "#FFD21F", GREEN = "#0A7F43", PINK = "#EE7BE8", CYAN = "#56CBDA";
const BLUE = "#56B4E9", ORANGE = "#E69F00";
const TEAL = "#00DADF", SALMON = "#FF8C85";

function addCanvas(left, top, w, h) {
  const c = document.createElement("canvas");
  c.width = w;
  c.height = h;
  c.style.left = left + "px";
  c.style.top = top + "px";
  document.body.appendChild(c);
  return c.getContext("2d");
}

function pairs(flat) {
  const out = [];
  for (let i = 0; i < flat.length; i += 2) out.push({ x: flat[i], y: flat[i + 1] });
  return out;
}

function zip(xs, ys) {
  return xs.map((x, i) => ({ x: x, y: ys[i] }));
}

// mute pulls the colour a little towards grey, panel D has grey cell borders bleeding in
function zColor(z, mute) {
  const t = Math.min(Math.abs(z) / 1.5, 1);
  const c = Math.round(255 * (1 - t));
  const mix = v => Math.round(v * (1 - mute) + 170 * mute);
  return z >= 0 ? `rgb(${mix(255)},${mix(c)},${mix(c)})` : `rgb(${mix(c)},${mix(c)},${mix(255)})`;
}

// panel A layers, bottom to top
function areaLayer(points, color, base, order) {
  return { type: "scatter", data: points, showLine: true, borderWidth: 0, pointRadius: 0, fill: { value: base }, backgroundColor: color, order: order };
}
function pointLayer(points, color, style, radius, order) {
  return { type: "scatter", data: points, showLine: false, pointStyle: style, pointRadius: radius, pointBorderWidth: 0, pointBackgroundColor: color, order: order };
}
function gapLayer(flat, radius, order) {
  const d = pointLayer(pairs(flat), "#fff", "triangle", radius, order);
  d.pointRotation = 180;
  return d;
}
function genePoints(group) {
  const out = [];
  geneGroup.forEach((g, i) => { if (g === group) out.push({ x: geneRank[i], y: geneValue[i] }); });
  return out;
}

// where the gene boxes sit on the panel A canvas, same order as geneNames
const geneBoxX = [163,270,117.5,265,357.8,450,404.5,490.6,540.8,315,613.4,642,743,752.3,837.7,1013.3,1093.3,947.9,1035,1105];
const geneBoxY = [47.3,57.3,86.7,94,48.7,43.7,114.3,102,134,167.7,191,139.3,124.3,183,137,187.7,183,230.3,250,295.7];

const geneLabels = {
  id: "geneLabels",
  afterDatasetsDraw(chart) {
    const ctx = chart.ctx, xs = chart.scales.x, ys = chart.scales.y;
    ctx.save();
    ctx.font = '10.2px "Liberation Sans"';
    ctx.textAlign = "center";
    ctx.textBaseline = "middle";
    geneNames.forEach((name, i) => {
      const px = xs.getPixelForValue(geneRank[i]), py = ys.getPixelForValue(geneValue[i]);
      const cx = geneBoxX[i], cy = geneBoxY[i];
      const w = ctx.measureText(name).width + 12, h = 20;
      const dx = px - cx, dy = py - cy, len = Math.hypot(dx, dy);
      const ux = dx / len, uy = dy / len;
      const edge = Math.min(Math.abs(dx) > 0 ? (w / 2) / Math.abs(ux) : 1e9, Math.abs(dy) > 0 ? (h / 2) / Math.abs(uy) : 1e9);
      const ex = px - ux * 6, ey = py - uy * 6;
      ctx.strokeStyle = "#000";
      ctx.fillStyle = "#000";
      ctx.lineWidth = 1.6;
      ctx.beginPath();
      ctx.moveTo(cx + ux * edge, cy + uy * edge);
      ctx.lineTo(ex, ey);
      ctx.stroke();
      ctx.beginPath();
      ctx.moveTo(ex, ey);
      ctx.lineTo(ex - ux * 6 - uy * 3, ey - uy * 6 + ux * 3);
      ctx.lineTo(ex - ux * 6 + uy * 3, ey - uy * 6 - ux * 3);
      ctx.closePath();
      ctx.fill();
      ctx.beginPath();
      ctx.roundRect(cx - w / 2, cy - h / 2, w, h, 4);
      ctx.fillStyle = "#fff";
      ctx.fill();
      ctx.strokeStyle = "#999";
      ctx.lineWidth = 1;
      ctx.stroke();
      ctx.fillStyle = "#000";
      ctx.fillText(name, cx, cy + 0.5);
    });
    ctx.restore();
  }
};

new Chart(addCanvas(0, 0, 1200, 560), {
  type: "scatter",
  data: {
    datasets: [
      areaLayer([{ x: 2, y: 1.27 }, { x: 545, y: 1.27 }], "#dadada", 0.04, 31),
      areaLayer([{ x: 545, y: 1.27 }, { x: 1094, y: 1.27 }], "#d2d2d2", 0.04, 30),
      pointLayer(pairs(grayGaps), "#fff", "rect", 1.9, 29),
      areaLayer(zip(yellowTopRank, yellowTopValue), YELLOW, pThreshold, 28),
      pointLayer(pairs(yellowPts).concat(genePoints(0)), YELLOW, "triangle", 6.5, 27),
      gapLayer(yellowGaps, 3.6, 26),
      areaLayer(zip(greenTopRank, greenTopValue), GREEN, pThreshold, 25),
      pointLayer(pairs(greenPts).concat(genePoints(1)), GREEN, "triangle", 6.5, 24),
      gapLayer(greenGaps, 3.8, 23),
      areaLayer(zip(pinkTopRank, pinkTopValue), PINK, pThreshold, 22),
      pointLayer(pairs(pinkPts).concat(genePoints(2)), PINK, "circle", 4.3, 21),
      gapLayer(pinkGaps, 3.2, 20),
      areaLayer(zip(cyanTopRank, cyanTopValue), CYAN, pThreshold, 19),
      pointLayer(pairs(cyanPts).concat(genePoints(3)), CYAN, "circle", 4.3, 18),
      gapLayer(cyanGaps, 3.2, 17),
      { type: "scatter", data: [{ x: 0, y: pThreshold }, { x: 1115, y: pThreshold }], showLine: true, borderColor: "#ff0000", borderWidth: 2, pointRadius: 0, order: 1 }
    ]
  },
  options: {
    responsive: false,
    layout: { padding: { top: 7, right: 10, left: 0, bottom: 0 } },
    scales: {
      x: {
        type: "linear", min: 0, max: 1115,
        ticks: { display: false },
        grid: { display: false, drawTicks: false },
        border: { color: "#000", width: 2 },
        afterFit(s) { s.height = 11; }
      },
      y: {
        type: "linear", min: 0, max: 10.65,
        afterBuildTicks(s) { s.ticks = pTicks.map(v => ({ value: v })); },
        ticks: { callback: v => v.toFixed(1), color: "#4d4d4d", font: { size: 15 }, padding: 2 },
        grid: { drawOnChartArea: false, tickLength: 3, color: "#333" },
        border: { color: "#000", width: 2 },
        afterFit(s) { s.width = 75; }
      }
    }
  },
  plugins: [geneLabels]
});

// panels B and C: violin, whisker, box, median for one group
function violinLayers(center, offset, shapes, q1, med, q3, lo, hi, color, boxWidth, medWidth, lineColor) {
  const out = [];
  shapes.forEach((flat, i) => {
    const c = center[i] + offset;
    const side = pairs(flat);
    const outline = side.map(p => ({ x: c - p.y, y: p.x })).concat(side.slice().reverse().map(p => ({ x: c + p.y, y: p.x })));
    out.push({ type: "scatter", data: outline, showLine: true, fill: "shape", borderWidth: 0, pointRadius: 0, backgroundColor: color, order: 5 });
    out.push({ type: "scatter", data: [{ x: c, y: lo[i] }, { x: c, y: hi[i] }], showLine: true, borderColor: lineColor, borderWidth: 1, pointRadius: 0, order: 4 });
    out.push({ type: "bar", data: [{ x: c, y: [q1[i], q3[i]] }], backgroundColor: color, borderColor: lineColor, borderWidth: 1, borderSkipped: false, barThickness: boxWidth, grouped: false, order: 3 });
    out.push({ type: "scatter", data: [{ x: c - medWidth, y: med[i] }, { x: c + medWidth, y: med[i] }], showLine: true, borderColor: "#222", borderWidth: 1.5, pointRadius: 0, order: 2 });
  });
  return out;
}

function violinChart(ctx, genes, ticks, datasets, o) {
  return new Chart(ctx, {
    type: "scatter",
    data: { datasets: datasets },
    options: {
      responsive: false,
      layout: { padding: { top: o.padTop, right: o.padRight, left: 0, bottom: 0 } },
      scales: {
        x: {
          type: "linear", min: o.xMin, max: o.xMax, offset: false,
          afterBuildTicks(s) { s.ticks = genes.map((g, i) => ({ value: i + 1 })); },
          ticks: { callback: v => genes[v - 1], color: "#111", font: { size: o.xFont }, padding: 0, autoSkip: false, maxRotation: 0 },
          grid: { drawOnChartArea: false, tickLength: 3, color: "#333" },
          border: { color: "#111", width: 2 },
          afterFit(s) { s.height = o.xHeight; }
        },
        y: {
          type: "linear", min: o.yMin, max: o.yMax,
          afterBuildTicks(s) { s.ticks = ticks.map(v => ({ value: v })); },
          ticks: { color: "#4d4d4d", font: { size: o.yFont }, padding: 1 },
          grid: { drawOnChartArea: false, tickLength: 3, color: "#333" },
          border: { color: "#111", width: 2 },
          title: { display: true, text: "Expression values", color: "#111", font: { size: o.titleFont }, padding: { top: o.titlePad, bottom: 0 } },
          afterFit(s) { s.width = o.yWidth; }
        }
      }
    }
  });
}

const bCenter = bGenes.map((g, i) => i + 1);
violinChart(addCanvas(0, 700, 430, 430), bGenes, bTicks,
  violinLayers(bCenter, -0.215, bResViolin, bResQ1, bResMed, bResQ3, bResLo, bResHi, BLUE, 7, 0.05, "#444")
    .concat(violinLayers(bCenter, 0.235, bSenViolin, bSenQ1, bSenMed, bSenQ3, bSenLo, bSenHi, ORANGE, 7, 0.05, "#444")),
  { padTop: 13, padRight: 15, xMin: 0.41, xMax: 5.6, yMin: 0.728, yMax: 4.544, xFont: 14.4, yFont: 15, xHeight: 24, yWidth: 66, titleFont: 15, titlePad: 35 });

const cCenter = cGenes.map((g, i) => i + 1);
violinChart(addCanvas(560, 740, 540, 385), cGenes, cTicks,
  violinLayers(cCenter, -0.224, cResViolin, cResQ1, cResMed, cResQ3, cResLo, cResHi, BLUE, 5, 0.05, "#888")
    .concat(violinLayers(cCenter, 0.224, cSenViolin, cSenQ1, cSenMed, cSenQ3, cSenLo, cSenHi, ORANGE, 5, 0.05, "#888")),
  { padTop: 13, padRight: 13, xMin: 0.4, xMax: 11.6, yMin: -0.45, yMax: 6.01, xFont: 10, yFont: 13, xHeight: 28, yWidth: 37, titleFont: 12, titlePad: 12 });

// panels D and E: stacked rows of bars, first two stacks are the group strip and the gap under it
function heatChart(ctx, cols, stripRows, gapRows, rowBorder) {
  const labels = ["S1", "S2", "S3", "S4", "S5", "S6"];
  const rows = cols[0].length;
  const mute = rowBorder ? 0.1 : 0;
  const datasets = [
    { data: labels.map(() => stripRows), backgroundColor: sampleGroup.map(g => g === "resistance" ? TEAL : SALMON), borderColor: rowBorder ? "#bbb" : "transparent", borderWidth: rowBorder ? { left: 1, right: 0, top: 0, bottom: 0 } : 0, borderSkipped: false },
    { data: labels.map(() => gapRows), backgroundColor: "#fff", borderWidth: 0 }
  ];
  for (let r = 0; r < rows; r++) {
    datasets.push({
      data: labels.map(() => 1),
      backgroundColor: cols.map(c => zColor(c[r], mute)),
      borderColor: "#9a9a9a",
      borderWidth: rowBorder ? { top: 0.8, left: 0.8, right: 0, bottom: 0 } : 0,
      borderSkipped: false
    });
  }
  return new Chart(ctx, {
    type: "bar",
    data: { labels: labels, datasets: datasets },
    options: {
      responsive: false,
      barPercentage: 1,
      categoryPercentage: 1,
      scales: {
        x: { stacked: true, display: false },
        y: { stacked: true, display: false, reverse: true, min: 0, max: rows + stripRows + gapRows }
      }
    }
  });
}

// canvas is 12px taller than the bar on each side so the end labels fit
function colorBar(ctx, yMin, yMax, labelWidth) {
  return new Chart(ctx, {
    type: "bar",
    data: {
      labels: [""],
      datasets: [{
        data: [[yMin, yMax]],
        backgroundColor(c) {
          const area = c.chart.chartArea;
          if (!area) return "#fff";
          const g = c.chart.ctx.createLinearGradient(0, area.top, 0, area.bottom);
          g.addColorStop(0, "#ff0000");
          g.addColorStop(0.5, "#ffffff");
          g.addColorStop(1, "#0000ff");
          return g;
        },
        borderWidth: 0
      }]
    },
    options: {
      responsive: false,
      barPercentage: 1,
      categoryPercentage: 1,
      layout: { autoPadding: false, padding: { top: 12, bottom: 12 } },
      scales: {
        x: { display: false },
        y: {
          position: "right", min: yMin, max: yMax,
          afterBuildTicks(s) { s.ticks = colorTicks.map(v => ({ value: v })); },
          ticks: { callback: v => colorLabels[colorTicks.indexOf(v)], color: "#000", font: { size: 14 }, padding: 5 },
          grid: { display: false, drawTicks: false },
          border: { display: false },
          afterFit(s) { s.width = labelWidth; }
        }
      }
    }
  });
}

function treeChart(ctx, brackets, tips, rowMax) {
  const path = [];
  brackets.forEach(b => {
    path.push({ x: b[3], y: b[0] }, { x: b[2], y: b[0] }, { x: b[2], y: b[1] }, { x: b[4], y: b[1] }, { x: null, y: null });
  });
  tips.forEach(r => {
    path.push({ x: 0, y: r }, { x: 5, y: r }, { x: 5, y: r + 0.45 }, { x: 0, y: r + 0.45 }, { x: null, y: null });
  });
  return new Chart(ctx, {
    type: "scatter",
    data: { datasets: [{ data: path, showLine: true, spanGaps: false, borderColor: "#333", borderWidth: 1, pointRadius: 0 }] },
    options: {
      responsive: false,
      scales: {
        x: { type: "linear", display: false, reverse: true, min: 0, max: 55 },
        y: { type: "linear", display: false, reverse: true, min: 0, max: rowMax }
      }
    }
  });
}

heatChart(addCanvas(76, 1213, 419, 428), [d1, d2, d3, d4, d5, d6], 3.33, 1.34, true);
colorBar(addCanvas(500, 1223, 60, 176), -1.58, 1.53, 50);
treeChart(addCanvas(21, 1227, 55, 414), dTree, [], d1.length);

heatChart(addCanvas(665, 1209, 422, 430), [e1, e2, e3, e4, e5, e6], 2.5, 1, false);
colorBar(addCanvas(1092, 1210, 60, 178), -1.72, 1.68, 50);
treeChart(addCanvas(610, 1222, 55, 417), eTree, eTips, e1.length);
</script>
</body>
</html>
